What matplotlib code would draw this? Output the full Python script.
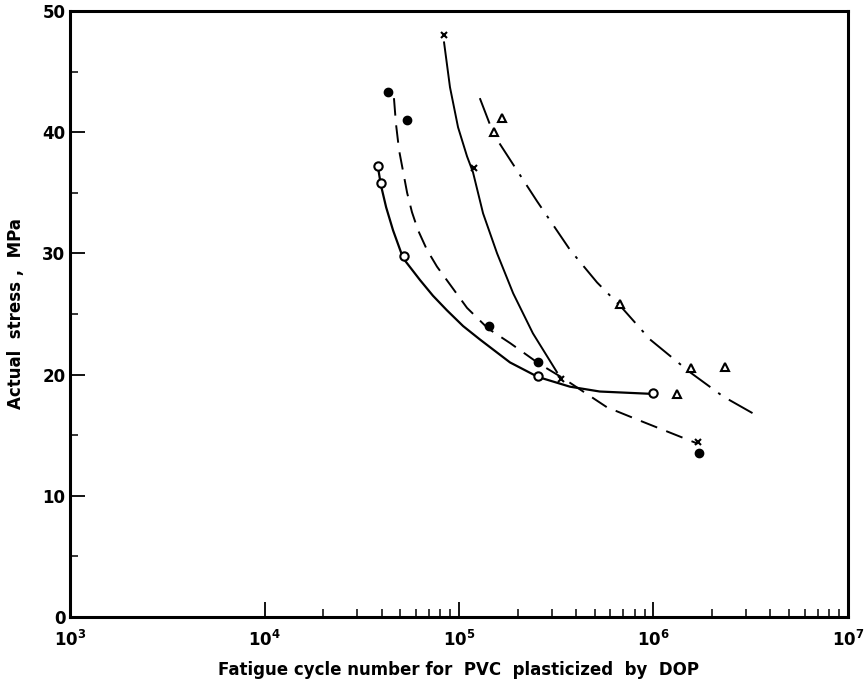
import numpy as np
import matplotlib.pyplot as plt
from matplotlib.ticker import FixedLocator, NullFormatter

# measured points
open_x = [3.84e4, 3.97e4, 5.2e4, 2.55e5, 1.0e6]
open_y = [37.2, 35.8, 29.8, 19.9, 18.5]
fill_x = [4.31e4, 5.4e4, 1.43e5, 2.55e5, 1.71e6]
fill_y = [43.3, 41.0, 24.0, 21.0, 13.5]
cross_x = [8.38e4, 1.19e5, 3.34e5, 1.69e6]
cross_y = [48.0, 37.0, 19.6, 14.4]
tri_x = [1.66e5, 1.51e5, 6.73e5, 1.56e6, 1.32e6, 2.33e6]
tri_y = [41.2, 40.0, 25.8, 20.5, 18.4, 20.6]

# curves
c_open_x = [3.84e4, 3.97e4, 4.22e4, 4.58e4, 5.16e4, 6.3e4, 7.35e4, 8.67e4, 1.05e5,
            1.28e5, 1.83e5, 2.55e5, 3.72e5, 5.3e5, 1.0e6]
c_open_y = [37.0, 35.6, 33.8, 31.9, 29.6, 27.8, 26.5, 25.3, 24.0,
            22.9, 21.0, 19.8, 19.0, 18.6, 18.4]
c_fill_x = [4.63e4, 4.74e4, 4.92e4, 5.41e4, 5.73e4, 6.16e4, 6.84e4, 7.71e4, 1.10e5, 1.41e5,
            1.83e5, 2.58e5, 3.43e5, 5.77e5, 8.83e5, 1.69e6]
c_fill_y = [42.8, 40.7, 38.5, 35.0, 33.4, 31.9, 30.3, 28.9, 25.5, 23.8,
            22.6, 20.9, 19.7, 17.3, 16.1, 14.3]
c_cross_x = [8.38e4, 8.99e4, 9.89e4, 1.10e5, 1.18e5, 1.33e5, 1.57e5, 1.90e5, 2.40e5, 3.19e5]
c_cross_y = [47.4, 43.7, 40.4, 38.0, 36.7, 33.3, 30.0, 26.7, 23.4, 20.2]
c_tri_x = [1.28e5, 1.51e5, 1.87e5, 2.52e5, 3.72e5, 5.13e5, 6.81e5, 9.6e5, 1.54e6, 2.28e6, 3.25e6]
c_tri_y = [42.8, 39.8, 37.5, 34.3, 30.3, 27.6, 25.6, 22.9, 20.2, 18.2, 16.8]

plt.rcParams['font.family'] = 'DejaVu Sans'
plt.rcParams['font.weight'] = 'bold'
plt.rcParams['mathtext.default'] = 'bf'

fig = plt.figure(figsize=(8.66, 6.81), dpi=100)
ax = fig.add_axes([0.081, 0.094, 0.898, 0.89])

ax.plot(c_open_x, c_open_y, '-', color='k', lw=1.6)
ax.plot(c_fill_x, c_fill_y, color='k', lw=1.4, dashes=(9, 5))
ax.plot(c_cross_x, c_cross_y, '-', color='k', lw=1.4)
ax.plot(c_tri_x, c_tri_y, color='k', lw=1.4, dashes=(14, 5, 1.5, 5))

ax.plot(open_x, open_y, 'o', mfc='white', mec='k', mew=1.5, ms=6)
ax.plot(fill_x, fill_y, 'o', color='k', ms=6)
ax.plot(cross_x, cross_y, 'x', color='k', mew=1.5, ms=5)
ax.plot(tri_x, tri_y, '^', mfc='white', mec='k', mew=1.5, ms=6)

ax.set_xscale('log')
ax.set_xlim(1e3, 1e7)
ax.set_ylim(0, 50)

ax.xaxis.set_major_locator(FixedLocator([1e3, 1e4, 1e5, 1e6, 1e7]))
minors = [m * 10**e for e in (4, 5, 6) for m in range(2, 10)]
ax.xaxis.set_minor_locator(FixedLocator(minors))
ax.xaxis.set_minor_formatter(NullFormatter())
ax.set_xticklabels(['$10^3$', '$10^4$', '$10^5$', '$10^6$', '$10^7$'])
ax.set_yticks([0, 10, 20, 30, 40, 50])
ax.set_yticks([5, 15, 25, 35, 45], minor=True)

ax.tick_params(which='major', direction='in', length=11, width=1.3, labelsize=12)
ax.tick_params(which='minor', direction='in', length=6, width=1.1)
ax.tick_params(axis='x', pad=9)
for s in ax.spines.values():
    s.set_linewidth(2.2)

ax.set_xlabel('Fatigue cycle number for  PVC  plasticized  by  DOP', fontsize=12,
              fontweight='bold', labelpad=8)
ax.set_ylabel('Actual  stress ,  MPa', fontsize=12, fontweight='bold', labelpad=12)

fig.savefig('out.png', dpi=100)
